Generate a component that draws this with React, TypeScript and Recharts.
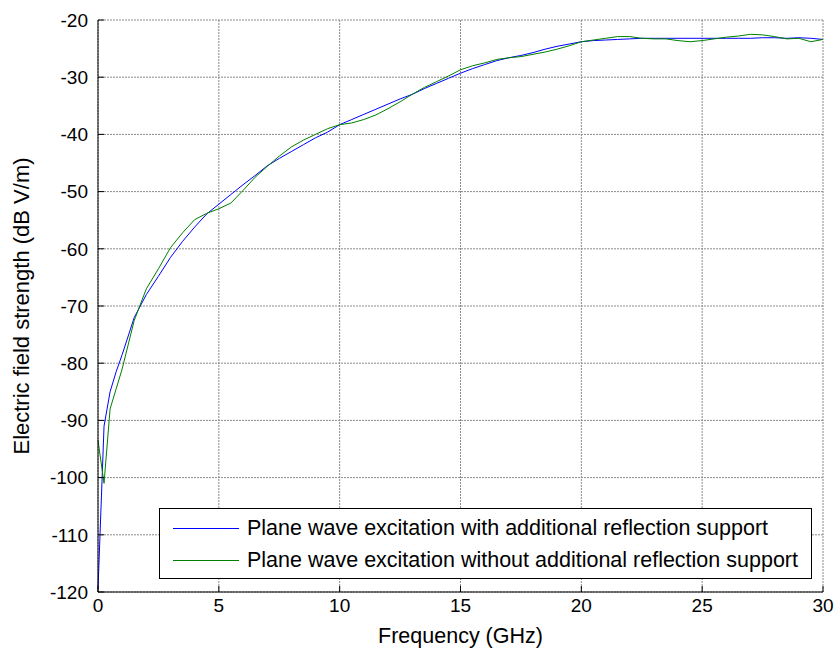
import { LineChart, Line, XAxis, YAxis, CartesianGrid, Legend, Label } from "recharts";

const freqGHz = [
  0, 0.25, 0.5, 0.75, 1, 1.5, 2, 2.5, 3, 3.5, 4, 4.5, 5, 5.5, 6, 6.5, 7, 7.5, 8, 8.5, 9, 9.5, 10,
  10.5, 11, 11.5, 12, 12.5, 13, 13.5, 14, 14.5, 15, 15.5, 16, 16.5, 17, 17.5, 18, 18.5, 19, 19.5, 20,
  20.5, 21, 21.5, 22, 22.5, 23, 23.5, 24, 24.5, 25, 25.5, 26, 26.5, 27, 27.5, 28, 28.5, 29, 29.5, 30,
];

// with additional reflection support (blue)
const withSupport = [
  -119.5, -91, -85, -81.5, -78.5, -72, -68, -64.8, -61.5, -58.7, -56.2, -53.9, -52.2, -50.5, -48.8, -47.2, -45.5, -44.2, -43, -41.8, -40.6, -39.6, -38.3,
  -37.4, -36.5, -35.6, -34.7, -33.8, -33, -32, -31.1, -30.2, -29.3, -28.5, -27.8, -27.1, -26.6, -26.2, -25.7, -25.1, -24.6, -24.2, -23.8,
  -23.6, -23.5, -23.4, -23.3, -23.2, -23.2, -23.2, -23.2, -23.2, -23.2, -23.2, -23.2, -23.2, -23.2, -23.1, -23.1, -23.2, -23.1, -23.2, -23.4,
];

// without additional reflection support (green)
const withoutSupport = [
  -93.5, -101, -88, -84.5, -81, -72.5, -67, -63.5, -59.8, -57.2, -54.9, -53.8, -53.0, -52.0, -49.8, -47.5, -45.6, -43.8, -42.2, -41, -40, -39, -38.3,
  -38, -37.4, -36.6, -35.5, -34.3, -33, -31.8, -30.8, -29.8, -28.7, -28, -27.5, -26.9, -26.6, -26.4, -26, -25.6, -25.1, -24.5, -23.8,
  -23.5, -23.2, -22.9, -22.9, -23.2, -23.3, -23.3, -23.6, -23.8, -23.6, -23.3, -23, -22.8, -22.5, -22.6, -22.9, -23.3, -23.2, -23.8, -23.4,
];

const xTicks = [0, 5, 10, 15, 20, 25, 30];
const yTicks = [-120, -110, -100, -90, -80, -70, -60, -50, -40, -30, -20];

const seriesNames = [
  "Plane wave excitation with additional reflection support",
  "Plane wave excitation without additional reflection support",
];
const seriesColors = ["#0000ff", "#008000"];

const data = freqGHz.map((f, i) => ({ f, a: withSupport[i], b: withoutSupport[i] }));

const font = "'Liberation Sans', Arial, sans-serif";

function LegendBox() {
  return (
    <div
      style={{
        width: 653,
        height: 71,
        boxSizing: "border-box",
        border: "1px solid #000",
        background: "#fff",
        fontFamily: font,
        fontSize: 21.5,
        color: "#000",
        position: "relative",
      }}
    >
      {seriesNames.map((name, i) => (
        <div key={name} style={{ position: "absolute", left: 13, top: 5 + i * 32, height: 28, display: "flex", alignItems: "center", whiteSpace: "nowrap" }}>
          <span style={{ display: "inline-block", width: 66, height: 1, background: seriesColors[i], marginRight: 8 }} />
          <span>{name}</span>
        </div>
      ))}
    </div>
  );
}

export default function App() {
  return (
    <div style={{ position: "absolute", left: 0, top: 0, width: 836, height: 653, background: "#fff" }}>
      <LineChart width={836} height={653} data={data} margin={{ top: 20, right: 13, bottom: 0, left: 0 }}>
        <CartesianGrid xAxisId="b" yAxisId="l" stroke="#8a8a8a" strokeDasharray="2 1" />
        <XAxis
          xAxisId="b"
          dataKey="f"
          type="number"
          domain={[0, 30]}
          ticks={xTicks}
          height={61}
          tickSize={-6}
          tickMargin={13}
          stroke="#000"
          tick={{ fill: "#000", fontSize: 19, fontFamily: font }}
        >
          <Label
            content={({ viewBox }: any) => (
              <text x={viewBox.x + viewBox.width / 2} y={viewBox.y + 51} textAnchor="middle" fontSize={21.5} fontFamily={font} fill="#000">
                Frequency (GHz)
              </text>
            )}
          />
        </XAxis>
        <XAxis xAxisId="t" orientation="top" type="number" domain={[0, 30]} ticks={xTicks} height={0} tickSize={-6} tick={false} stroke="#000" allowDataOverflow />
        <YAxis
          yAxisId="l"
          type="number"
          domain={[-120, -20]}
          ticks={yTicks}
          width={98}
          tickSize={-6}
          tickMargin={16}
          stroke="#000"
          tick={{ fill: "#000", fontSize: 19, fontFamily: font }}
        >
          <Label
            content={({ viewBox }: any) => (
              <text
                x={29}
                y={viewBox.y + viewBox.height / 2}
                transform={`rotate(-90, 29, ${viewBox.y + viewBox.height / 2})`}
                textAnchor="middle"
                fontSize={22}
                fontFamily={font}
                fill="#000"
              >
                Electric field strength (dB V/m)
              </text>
            )}
          />
        </YAxis>
        <YAxis yAxisId="r" orientation="right" type="number" domain={[-120, -20]} ticks={yTicks} width={0} tickSize={-6} tick={false} stroke="#000" allowDataOverflow />
        <Line xAxisId="b" yAxisId="l" type="linear" dataKey="a" name={seriesNames[0]} stroke={seriesColors[0]} strokeWidth={1} dot={false} isAnimationActive={false} />
        <Line xAxisId="b" yAxisId="l" type="linear" dataKey="b" name={seriesNames[1]} stroke={seriesColors[1]} strokeWidth={1} dot={false} isAnimationActive={false} />
        <Legend
          layout="horizontal"
          verticalAlign="middle"
          align="center"
          content={() => <LegendBox />}
          wrapperStyle={{ left: 159, top: 508, width: 653, height: 71 }}
        />
      </LineChart>
    </div>
  );
}
